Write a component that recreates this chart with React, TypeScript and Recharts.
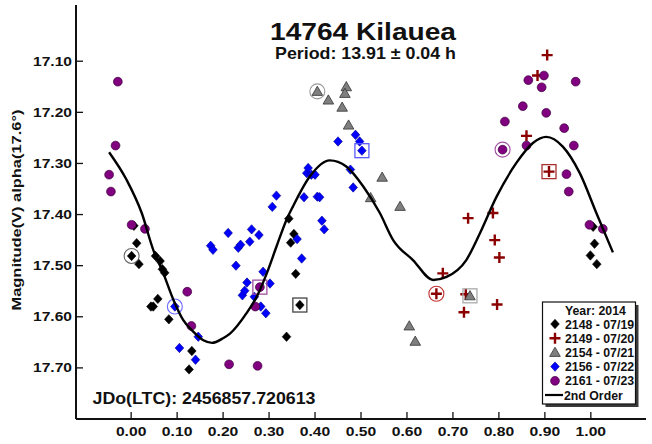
import React from "react";
import { ScatterChart, Scatter, XAxis, YAxis } from "recharts";

const FONT = '"Liberation Sans", Arial, sans-serif';
const INK = "#111";

// phase / magnitude per session
const phase2148 = [0.006, 0.012, 0.001, 0.017, 0.053, 0.063, 0.068, 0.073, 0.058, 0.043, 0.048, 0.082, 0.132, 0.126, 0.343, 0.354, 0.347, 0.358, 0.367, 0.338, 1.005, 1.008, 0.999, 1.013];
const mag2148 = [17.422, 17.456, 17.481, 17.497, 17.481, 17.491, 17.507, 17.514, 17.565, 17.58, 17.58, 17.605, 17.667, 17.703, 17.408, 17.438, 17.455, 17.516, 17.577, 17.639, 17.424, 17.457, 17.48, 17.497];

const phase2149 = [0.678, 0.664, 0.728, 0.724, 0.733, 0.787, 0.791, 0.801, 0.796, 0.86, 0.884, 0.905, 0.909];
const mag2149 = [17.515, 17.555, 17.556, 17.591, 17.407, 17.397, 17.45, 17.484, 17.576, 17.246, 17.128, 17.088, 17.316];

const phase2154 = [0.405, 0.429, 0.468, 0.465, 0.459, 0.473, 0.546, 0.521, 0.585, 0.605, 0.618, 0.737];
const mag2154 = [17.159, 17.176, 17.15, 17.163, 17.19, 17.225, 17.327, 17.367, 17.384, 17.618, 17.648, 17.559];

const phase2156 = [0.095, 0.105, 0.14, 0.146, 0.173, 0.178, 0.211, 0.228, 0.233, 0.238, 0.258, 0.262, 0.278, 0.242, 0.247, 0.252, 0.268, 0.282, 0.293, 0.287, 0.302, 0.307, 0.316, 0.361, 0.371, 0.376, 0.382, 0.385, 0.392, 0.4, 0.405, 0.41, 0.415, 0.42, 0.45, 0.488, 0.497, 0.502, 0.477, 0.483];
const mag2156 = [17.58, 17.661, 17.684, 17.639, 17.461, 17.469, 17.436, 17.5, 17.465, 17.459, 17.453, 17.429, 17.44, 17.558, 17.549, 17.533, 17.561, 17.58, 17.593, 17.512, 17.535, 17.385, 17.363, 17.448, 17.486, 17.366, 17.319, 17.309, 17.322, 17.322, 17.365, 17.366, 17.412, 17.429, 17.257, 17.244, 17.257, 17.275, 17.312, 17.347];

const phase2161 = [-0.029, -0.034, -0.048, -0.044, 0.001, 0.03, 0.122, 0.131, 0.213, 0.275, 0.28, 0.27, 0.808, 0.813, 0.852, 0.86, 0.864, 0.893, 0.898, 0.903, 0.942, 0.963, 0.967, 0.947, 0.952, 0.997, 1.026];
const mag2161 = [17.14, 17.265, 17.322, 17.355, 17.42, 17.428, 17.551, 17.618, 17.693, 17.696, 17.542, 17.58, 17.273, 17.218, 17.188, 17.265, 17.137, 17.151, 17.128, 17.201, 17.231, 17.265, 17.14, 17.321, 17.355, 17.42, 17.428];

// 2nd order fit
const fitPhase = [-0.048, -0.01, 0.023, 0.048, 0.07, 0.092, 0.113, 0.135, 0.157, 0.176, 0.2, 0.215, 0.251, 0.273, 0.295, 0.316, 0.338, 0.352, 0.389, 0.432, 0.468, 0.505, 0.541, 0.57, 0.613, 0.657, 0.686, 0.729, 0.758, 0.795, 0.838, 0.874, 0.903, 0.939, 0.976, 1.012, 1.048];
const fitMag = [17.278, 17.332, 17.397, 17.469, 17.515, 17.567, 17.606, 17.629, 17.646, 17.651, 17.642, 17.633, 17.593, 17.561, 17.515, 17.463, 17.41, 17.384, 17.325, 17.294, 17.306, 17.345, 17.397, 17.45, 17.489, 17.528, 17.522, 17.489, 17.438, 17.365, 17.299, 17.26, 17.248, 17.267, 17.319, 17.397, 17.474];

const xTicks = [0, 0.1, 0.2, 0.3, 0.4, 0.5, 0.6, 0.7, 0.8, 0.9, 1.0];
const yTicks = [17.1, 17.2, 17.3, 17.4, 17.5, 17.6, 17.7];

const toPoints = (p: number[], m: number[], ring: number, box: number) =>
  p.map((phase, i) => ({ phase, mag: m[i], ring: i === ring, box: i === box }));

const diamond = (fill: string, stroke: string) => (x: number, y: number) => (
  <path d={`M${x},${y - 4.7}L${x + 4.3},${y}L${x},${y + 4.7}L${x - 4.3},${y}Z`} fill={fill} stroke={stroke} strokeWidth={0.6} />
);
const cross = (x: number, y: number) => (
  <path d={`M${x - 5.5},${y}H${x + 5.5}M${x},${y - 5.5}V${y + 5.5}`} stroke="#8b0000" strokeWidth={2.4} />
);
const triangle = (x: number, y: number) => (
  <path d={`M${x},${y - 5.2}L${x + 5.3},${y + 4}L${x - 5.3},${y + 4}Z`} fill="#7f7f7f" stroke="#333" strokeWidth={0.8} />
);
const dot = (x: number, y: number) => (
  <circle cx={x} cy={y} r={4.4} fill="#800080" stroke="#3d003d" strokeWidth={0.7} />
);

const series = [
  { label: "2148 - 07/19", data: toPoints(phase2148, mag2148, 2, 18), mark: diamond("#000", "#000"), ring: "#666", box: "#444" },
  { label: "2149 - 07/20", data: toPoints(phase2149, mag2149, 1, 12), mark: cross, ring: "#c03030", box: "#a83030" },
  { label: "2154 - 07/21", data: toPoints(phase2154, mag2154, 0, 11), mark: triangle, ring: "#999", box: "#aaa" },
  { label: "2156 - 07/22", data: toPoints(phase2156, mag2156, 0, 37), mark: diamond("#0000ff", "#00008b"), ring: "#6a6aff", box: "#5a5aff" },
  { label: "2161 - 07/23", data: toPoints(phase2161, mag2161, 12, 10), mark: dot, ring: "#a050a0", box: "#a050a0" },
];

const fit = fitPhase.map((phase, i) => ({ phase, mag: fitMag[i] }));

const Stretch = ({ x, y, size, len, anchor = "start", children }: any) => (
  <text x={x} y={y} fontSize={size} fontWeight="bold" fontFamily={FONT} fill={INK}
    textAnchor={anchor} textLength={len} lengthAdjust="spacingAndGlyphs">
    {children}
  </text>
);

const BottomTick = (p: any) => (
  <g>
    <line x1={p.x} x2={p.x} y1={p.y} y2={p.y - 7} stroke={INK} strokeWidth={1.3} />
    <Stretch x={p.x} y={p.y + 17} size={13} len={30.5} anchor="middle">{p.payload.value.toFixed(2)}</Stretch>
  </g>
);
const TopTick = (p: any) => <line x1={p.x} x2={p.x} y1={p.y} y2={p.y + 7} stroke={INK} strokeWidth={1.3} />;
const LeftTick = (p: any) => (
  <g>
    <line x1={p.x} x2={p.x + 7} y1={p.y} y2={p.y} stroke={INK} strokeWidth={1.3} />
    <Stretch x={p.x - 4} y={p.y + 4.6} size={13} len={39} anchor="end">{p.payload.value.toFixed(2)}</Stretch>
  </g>
);
const RightTick = (p: any) => <line x1={p.x} x2={p.x - 7} y1={p.y} y2={p.y} stroke={INK} strokeWidth={1.3} />;

const frame = { stroke: INK, strokeWidth: 2 };

export default function App() {
  return (
    <div style={{ position: "absolute", left: 0, top: 0, width: 652, height: 444, background: "#fff" }}>
      <ScatterChart width={652} height={444} margin={{ top: 5, right: 6, bottom: 0, left: 6 }}>
        <XAxis type="number" dataKey="phase" domain={[-0.12, 1.12]} ticks={xTicks} interval={0}
          allowDataOverflow height={25} tickLine={false} tickSize={0} tickMargin={0} axisLine={frame} tick={BottomTick} />
        <XAxis xAxisId="top" orientation="top" type="number" domain={[-0.12, 1.12]} ticks={xTicks} interval={0}
          allowDataOverflow height={0} tickLine={false} tickSize={0} tickMargin={0} axisLine={frame} tick={TopTick} />
        <YAxis type="number" dataKey="mag" domain={[16.99, 17.8]} reversed ticks={yTicks} interval={0}
          allowDataOverflow width={70} tickLine={false} tickSize={0} tickMargin={0} axisLine={frame} tick={LeftTick} />
        <YAxis yAxisId="right" orientation="right" type="number" domain={[16.99, 17.8]} reversed ticks={yTicks} interval={0}
          allowDataOverflow width={0} tickLine={false} tickSize={0} tickMargin={0} axisLine={frame} tick={RightTick} />
        {series.map((s) => (
          <Scatter key={s.label} name={s.label} data={s.data} isAnimationActive={false}
            shape={(p: any) => (
              <g>
                {s.mark(p.cx, p.cy)}
                {p.payload.ring && <circle cx={p.cx} cy={p.cy} r={7.5} fill="none" stroke={s.ring} strokeWidth={1.1} />}
                {p.payload.box && <rect x={p.cx - 7} y={p.cy - 7} width={14} height={14} fill="none" stroke={s.box} strokeWidth={1.3} />}
              </g>
            )} />
        ))}
        <Scatter name="2nd Order" data={fit} isAnimationActive={false} line={{ stroke: "#000", strokeWidth: 2.4 }}
          lineJointType="monotoneX" shape={() => <g />} />
      </ScatterChart>

      <svg width={652} height={444} style={{ position: "absolute", left: 0, top: 0, pointerEvents: "none" }}>
        <Stretch x={363} y={39.5} size={23} len={186} anchor="middle">14764 Kilauea</Stretch>
        <Stretch x={365.5} y={58.5} size={16.3} len={181} anchor="middle">Period: 13.91 ± 0.04 h</Stretch>
        <Stretch x={92.5} y={403.5} size={16.3} len={223}>JDo(LTC): 2456857.720613</Stretch>
        <g transform="rotate(-90 21 210)">
          <Stretch x={21} y={210} size={13.5} len={201} anchor="middle">Magnitude(V) alpha(17.6°)</Stretch>
        </g>

        <rect x={545.5} y={305} width={93} height={102} fill="#3a3a3a" />
        <rect x={542.5} y={302} width={93} height={102} fill="#fff" stroke={INK} strokeWidth={1.2} />
        <text x={565} y={314.5} fontSize={12.3} fontWeight="bold" fontFamily={FONT} fill={INK}>Year: 2014</text>
        {series.map((s, i) => (
          <g key={s.label}>
            {s.mark(555, 324 + i * 14.2)}
            <text x={565} y={328.5 + i * 14.2} fontSize={12.3} fontWeight="bold" fontFamily={FONT} fill={INK}>{s.label}</text>
          </g>
        ))}
        <line x1={545} x2={563} y1={395} y2={395} stroke="#000" strokeWidth={2.2} />
        <text x={564} y={399.5} fontSize={12.3} fontWeight="bold" fontFamily={FONT} fill={INK}>2nd Order</text>
      </svg>
    </div>
  );
}
